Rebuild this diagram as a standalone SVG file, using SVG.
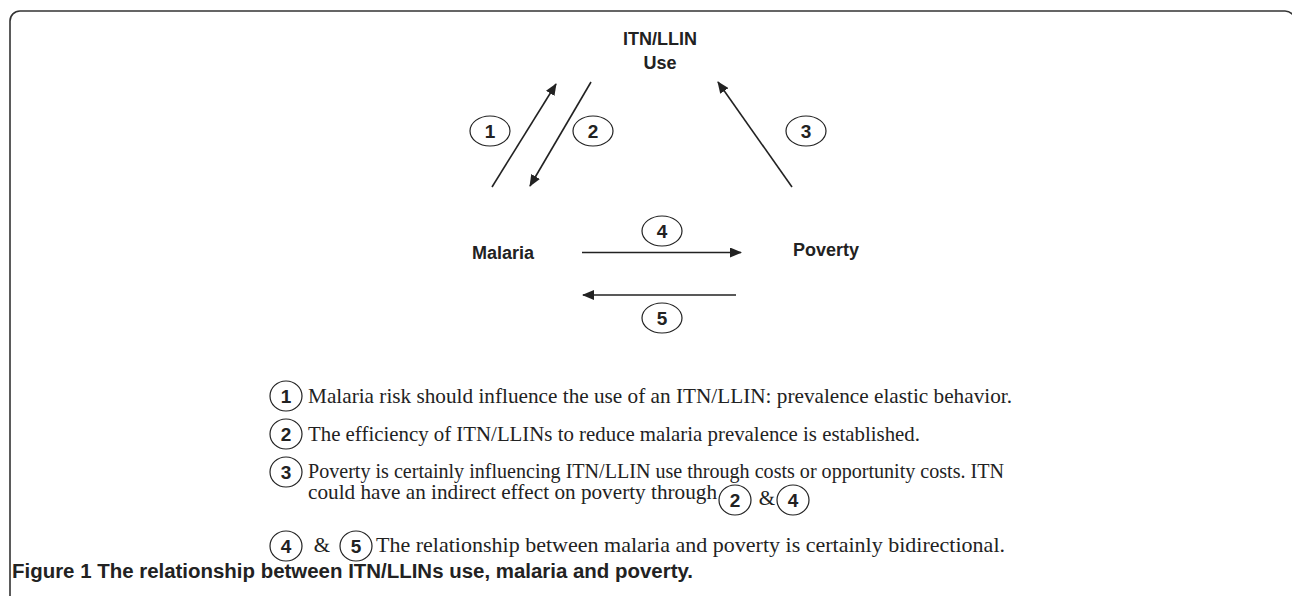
<svg xmlns="http://www.w3.org/2000/svg" width="1292" height="596" viewBox="0 0 1292 596">
<style>
.lbl{font-family:"Liberation Sans",Arial,sans-serif;font-weight:bold;font-size:18px;fill:#222}
.num{font-family:"Liberation Sans",Arial,sans-serif;font-weight:bold;font-size:19px;fill:#222;text-anchor:middle}
.ell{fill:none;stroke:#222;stroke-width:1.2}
.arr{stroke:#222;stroke-width:1.6;fill:none;marker-end:url(#ah)}
.leg{font-family:"Liberation Serif","Times New Roman",serif;font-size:21px;fill:#222}
.cap{font-family:"Liberation Sans",Arial,sans-serif;font-weight:bold;font-size:20px;fill:#222}
</style>
<defs>
<marker id="ah" markerWidth="12" markerHeight="10" refX="11" refY="5" orient="auto" markerUnits="userSpaceOnUse">
<path d="M0,0 L12,5 L0,10 Z" fill="#222"/>
</marker>
</defs>
<rect width="1292" height="596" fill="#fff"/>
<path d="M10,596 L10,21 A10,10 0 0 1 20,11 L1285,11 A10,10 0 0 1 1295,21" fill="none" stroke="#333" stroke-width="1.6"/>

<g id="node-itn">
<text class="lbl" x="660" y="45" text-anchor="middle">ITN/LLIN</text>
<text class="lbl" x="660" y="69" text-anchor="middle">Use</text>
</g>
<g id="node-malaria"><text class="lbl" x="472" y="259">Malaria</text></g>
<g id="node-poverty"><text class="lbl" x="793" y="256">Poverty</text></g>

<g id="connectors">
<line class="arr" x1="492" y1="187" x2="556" y2="84"/>
<line class="arr" x1="591" y1="82" x2="530" y2="186"/>
<line class="arr" x1="792" y1="187" x2="718" y2="82"/>
<line class="arr" x1="582" y1="252.5" x2="741" y2="252.5"/>
<line class="arr" x1="736" y1="295" x2="583" y2="295"/>
</g>

<g id="label-1"><ellipse class="ell" cx="490" cy="131" rx="20" ry="15"/><text class="num" x="490" y="138">1</text></g>
<g id="label-2"><ellipse class="ell" cx="593" cy="131" rx="20" ry="15"/><text class="num" x="593" y="138">2</text></g>
<g id="label-3"><ellipse class="ell" cx="806" cy="131" rx="20" ry="15"/><text class="num" x="806" y="138">3</text></g>
<g id="label-4"><ellipse class="ell" cx="662" cy="231" rx="20" ry="15"/><text class="num" x="662" y="238">4</text></g>
<g id="label-5"><ellipse class="ell" cx="662" cy="318" rx="20" ry="15"/><text class="num" x="662" y="325">5</text></g>

<g id="legend">
<ellipse class="ell" cx="286" cy="396" rx="16" ry="15"/><text class="num" x="286" y="403">1</text>
<text class="leg" x="308" y="403" textLength="704" lengthAdjust="spacingAndGlyphs">Malaria risk should influence the use of an ITN/LLIN: prevalence elastic behavior.</text>
<ellipse class="ell" cx="286" cy="434" rx="16" ry="15"/><text class="num" x="286" y="441">2</text>
<text class="leg" x="308" y="441" textLength="612" lengthAdjust="spacingAndGlyphs">The efficiency of ITN/LLINs to reduce malaria prevalence is established.</text>
<ellipse class="ell" cx="286" cy="472" rx="16" ry="15"/><text class="num" x="286" y="479">3</text>
<text class="leg" x="308" y="478" textLength="696" lengthAdjust="spacingAndGlyphs">Poverty is certainly influencing ITN/LLIN use through costs or opportunity costs. ITN</text>
<text class="leg" x="308" y="499" textLength="409" lengthAdjust="spacingAndGlyphs">could have an indirect effect on poverty through</text>
<ellipse class="ell" cx="735" cy="500" rx="16" ry="15"/><text class="num" x="735" y="507">2</text>
<text class="leg" x="767" y="505" text-anchor="middle">&amp;</text>
<ellipse class="ell" cx="793" cy="500" rx="16" ry="15"/><text class="num" x="793" y="507">4</text>
<ellipse class="ell" cx="286" cy="546" rx="16" ry="15"/><text class="num" x="286" y="553">4</text>
<text class="leg" x="322" y="552" text-anchor="middle">&amp;</text>
<ellipse class="ell" cx="356" cy="546" rx="16" ry="15"/><text class="num" x="356" y="553">5</text>
<text class="leg" x="376" y="552" textLength="629" lengthAdjust="spacingAndGlyphs">The relationship between malaria and poverty is certainly bidirectional.</text>
</g>

<g id="caption">
<text class="cap" x="12" y="578" textLength="681" lengthAdjust="spacingAndGlyphs">Figure 1 The relationship between ITN/LLINs use, malaria and poverty.</text>
</g>
</svg>
